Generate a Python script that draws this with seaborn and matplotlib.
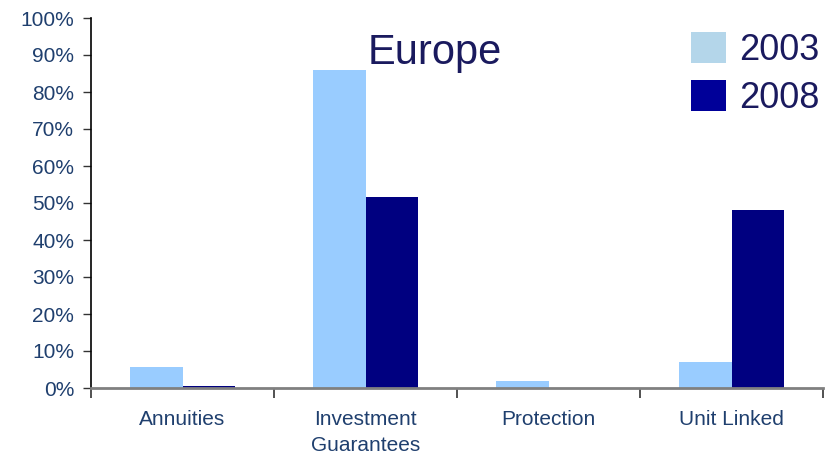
import matplotlib
matplotlib.use("Agg")
import matplotlib.pyplot as plt
from matplotlib.patches import Patch
from matplotlib.ticker import FixedLocator, PercentFormatter
import pandas as pd
import seaborn as sns

categories = ["Annuities", "Investment\nGuarantees", "Protection", "Unit Linked"]
years = ["2003", "2008"]
share_2003 = [5.7, 86.0, 1.8, 7.0]
share_2008 = [0.6, 51.6, 0.0, 48.2]

df = pd.DataFrame({
    "category": categories * 2,
    "year": [years[0]] * 4 + [years[1]] * 4,
    "share": share_2003 + share_2008,
})

sns.set_theme(style="white")
plt.rcParams["font.family"] = ["Liberation Sans", "DejaVu Sans"]

bar_colors = {"2003": "#99CCFF", "2008": "#000080"}
legend_colors = {"2003": "#B4D6EA", "2008": "#000099"}
label_color = "#1F3F6E"

fig = plt.figure(figsize=(8.32, 4.62), dpi=100)
ax = fig.add_axes([91 / 832, 74 / 462, 732 / 832, 370 / 462])

sns.barplot(data=df, x="category", y="share", hue="year", order=categories,
            hue_order=years, palette=bar_colors, width=0.57, gap=0,
            saturation=1, linewidth=0, legend=False, ax=ax)

ax.set_xlim(-0.5, len(categories) - 0.5)
ax.set_ylim(0, 100)
ax.set_xlabel("")
ax.set_ylabel("")
ax.set_yticks(range(0, 101, 10))
ax.yaxis.set_major_formatter(PercentFormatter(decimals=0))
ax.tick_params(axis="y", which="major", direction="out", length=6, width=1,
               color="#333333", labelsize=15, labelcolor=label_color, pad=6, left=True)
ax.tick_params(axis="x", which="major", length=0, labelsize=15,
               labelcolor=label_color, pad=16)
for lbl in ax.get_xticklabels():
    lbl.set_linespacing(1.45)
ax.xaxis.set_minor_locator(FixedLocator([i - 0.5 for i in range(len(categories) + 1)]))
ax.tick_params(axis="x", which="minor", direction="out", length=7, width=1.2,
               color="#333333", bottom=True)

for side in ["top", "right"]:
    ax.spines[side].set_visible(False)
ax.spines["left"].set_color("black")
ax.spines["left"].set_linewidth(1.2)
ax.spines["bottom"].set_color("#808080")
ax.spines["bottom"].set_linewidth(2)
ax.grid(False)

fig.text(435 / 832, 1 - 53 / 462, "Europe", ha="center", va="center",
         fontsize=30, color="#1A1A5E")

handles = [Patch(facecolor=legend_colors[y], edgecolor="none", label=y) for y in years]
leg = fig.legend(handles=handles, loc="upper left", bbox_to_anchor=(691 / 832, 1 - 32 / 462),
                 frameon=False, fontsize=26, handlelength=0.97, handleheight=0.95,
                 handletextpad=0.36, labelspacing=0.32, borderaxespad=0, borderpad=0)
for t in leg.get_texts():
    t.set_color("#1A1A5E")

fig.savefig("out.png", dpi=100)
